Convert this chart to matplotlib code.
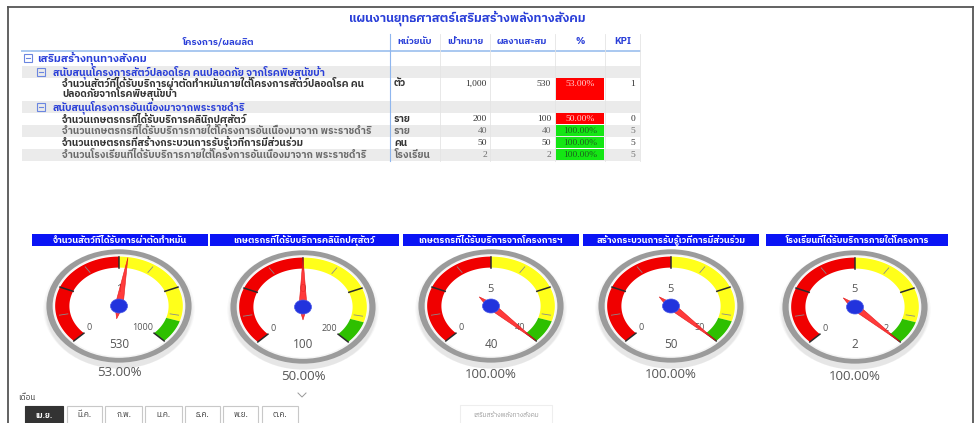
import numpy as np
import matplotlib
matplotlib.use('Agg')
import matplotlib.pyplot as plt
from matplotlib import font_manager
from matplotlib.ft2font import FT2Font
from matplotlib.patches import Polygon, Rectangle, Ellipse

# ---------------- data ----------------
title = 'แผนงานยุทธศาสตร์เสริมสร้างพลังทางสังคม'
headers = ['โครงการ/ผลผลิต', 'หน่วยนับ', 'เป้าหมาย', 'ผลงานสะสม', '%', 'KPI']
group0 = 'เสริมสร้างทุนทางสังคม'
groups = ['สนับสนุนโครงการสัตว์ปลอดโรค คนปลอดภัย จากโรคพิษสุนัขบ้า',
          'สนับสนุนโครงการอันเนื่องมาจากพระราชดำริ']
items = ['จำนวนสัตว์ที่ได้รับบริการผ่าตัดทำหมันภายใต้โครงการสัตว์ปลอดโรค คน\nปลอดภัยจากโรคพิษสุนัขบ้า',
         'จำนวนเกษตรกรที่ได้รับบริการคลินิกปศุสัตว์',
         'จำนวนเกษตรกรที่ได้รับบริการภายใต้โครงการอันเนื่องมาจาก พระราชดำริ',
         'จำนวนเกษตรกรที่สร้างกระบวนการรับรู้เวทีการมีส่วนร่วม',
         'จำนวนโรงเรียนที่ได้รับบริการภายใต้โครงการอันเนื่องมาจาก พระราชดำริ']
item_group = [0, 1, 1, 1, 1]
units = ['ตัว', 'ราย', 'ราย', 'คน', 'โรงเรียน']
targets = [1000, 200, 40, 50, 2]
actuals = [530, 100, 40, 50, 2]
percents = [53.00, 50.00, 100.00, 100.00, 100.00]
kpis = [1, 0, 5, 5, 5]
gauge_titles = ['จำนวนสัตว์ที่ได้รับการผ่าตัดทำหมัน',
                'เกษตรกรที่ได้รับบริการคลินิกปศุสัตว์',
                'เกษตรกรที่ได้รับบริการจากโครงการฯ',
                'สร้างกระบวนการรับรู้เวทีการมีส่วนร่วม',
                'โรงเรียนที่ได้รับบริการภายใต้โครงการ']
band_limits = [0.5, 0.9, 1.0]          # red / yellow / green upper bounds (fraction)
band_colors = ['#f00000', '#ffff1a', '#2ec000']
slicer_label = 'เดือน'
months = ['เม.ย.', 'มี.ค.', 'ก.พ.', 'ม.ค.', 'ธ.ค.', 'พ.ย.', 'ต.ค.']
selected_month = 'เม.ย.'
page_tab = 'เสริมสร้างพลังทางสังคม'

# ---------------- fonts ----------------
def find_thai():
    cands = []
    seen = set()
    for f in font_manager.fontManager.ttflist:
        if f.name in seen:
            continue
        try:
            cm = FT2Font(f.fname).get_charmap()
        except Exception:
            continue
        if 0x0E08 in cm and 0x0E2A in cm and 0x0E33 in cm:
            cands.append(f.name)
            seen.add(f.name)
    cands.sort(key=lambda n: (0 if 'Thai' in n else 1, n))
    return cands[0] if cands else 'DejaVu Sans'

THAI = find_thai()
plt.rcParams['font.family'] = [THAI, 'DejaVu Sans']
NUMF = ['Open Sans', THAI, 'DejaVu Sans']
SERIF = ['Liberation Serif', THAI]

W, H = 976, 423
fig = plt.figure(figsize=(W / 100, H / 100), dpi=100)
ax = fig.add_axes([0, 0, 1, 1])
ax.set_xlim(0, W)
ax.set_ylim(H, 0)
ax.axis('off')

# ---------------- frame ----------------
ax.plot([8, 8], [7, H], color='#555555', lw=1.3)
ax.plot([8, 973], [7, 7], color='#555555', lw=1.3)
ax.plot([973, 973], [7, H], color='#555555', lw=1.3)

# ---------------- table ----------------
BLUE = '#2a3fd8'
ax.text(467, 18, title, ha='center', va='center', fontsize=9.0, fontweight='bold', color=BLUE)

col_edges = [22, 390, 440, 490, 555, 605, 640]
hdr_x = [218, 415, 465, 522, 580, 623]
for t, x in zip(headers, hdr_x):
    ax.text(x, 42, t, ha='center', va='center', fontsize=6.8, fontweight='bold', color=BLUE)

# rows: (kind, index, top, bottom)
rows = [('g0', 0, 51, 66), ('g1', 0, 66, 78), ('it', 0, 78, 101), ('g1', 1, 101, 113),
        ('it', 1, 113, 125), ('it', 2, 125, 137), ('it', 3, 137, 149), ('it', 4, 149, 161)]

def minus_box(x, yc, color='#6b86e0'):
    ax.add_patch(Rectangle((x, yc - 4), 8, 8, fill=False, ec=color, lw=0.8))
    ax.plot([x + 2, x + 6], [yc, yc], color=color, lw=0.8)

ITF = 7.3
pos_in_group = {}
for kind, idx, top, bot in rows:
    yc = (top + bot) / 2
    if kind == 'g0':
        minus_box(24, yc)
        ax.text(37, yc, group0, ha='left', va='center', fontsize=8.0, fontweight='bold', color=BLUE)
    elif kind == 'g1':
        ax.add_patch(Rectangle((22, top), 618, bot - top, color='#ebebeb', lw=0))
        minus_box(37, yc)
        ax.text(53, yc, groups[idx], ha='left', va='center', fontsize=7.4, fontweight='bold', color=BLUE)
    else:
        g = item_group[idx]
        k = pos_in_group.get(g, 0)
        pos_in_group[g] = k + 1
        banded = (k % 2 == 1)
        tc = '#6a6a6a' if banded else '#333333'
        if banded:
            ax.add_patch(Rectangle((22, top), 618, bot - top, color='#ebebeb', lw=0))
        lines = items[idx].split('\n')
        if len(lines) == 1:
            ax.text(62, yc, lines[0], ha='left', va='center', fontsize=ITF, fontweight='bold', color=tc)
            ty = yc
        else:
            ax.text(62, top + 5.5, lines[0], ha='left', va='center', fontsize=ITF, fontweight='bold', color=tc)
            ax.text(62, top + 15.5, lines[1], ha='left', va='center', fontsize=ITF, fontweight='bold', color=tc)
            ty = top + 5.5
        ax.text(394, ty, units[idx], ha='left', va='center', fontsize=ITF, fontweight='bold', color=tc)
        ax.text(487, ty, f'{targets[idx]:,}', ha='right', va='center', fontsize=6.8, color=tc, family=SERIF)
        ax.text(551, ty, f'{actuals[idx]:,}', ha='right', va='center', fontsize=6.8, color=tc, family=SERIF)
        ok = percents[idx] >= 100
        cell_c = '#14e614' if ok else '#ff0000'
        ax.add_patch(Rectangle((556, top + 0.5), 48, bot - top - 1, color=cell_c, lw=0))
        ax.text(580, ty, f'{percents[idx]:.2f}%', ha='center', va='center', fontsize=6.8,
                color=('#1d5e1d' if ok else '#ffd0d0'), family=SERIF)
        ax.text(635, ty, str(kpis[idx]), ha='right', va='center', fontsize=6.8, color=tc, family=SERIF)

ax.plot([22, 640], [51, 51], color='#a9c8f0', lw=1.4)
ax.plot([390, 390], [34, 161], color='#8fb6ee', lw=0.8)
for x in col_edges[2:]:
    ax.plot([x, x], [34, 161], color='#e4e4e4', lw=0.6)

# ---------------- gauges ----------------
SX, SY = 62.0, 48.0
gcx = [119, 303, 491, 671, 855]
gcy = [306, 307, 306, 306, 307]
pct_y = [372, 377, 375, 375, 376]
bars = [(32, 208), (210, 399), (403, 579), (583, 759), (766, 948)]

def pt(cx, cy, r, deg):
    th = np.deg2rad(deg)
    return cx + r * SX * np.cos(th), cy - r * SY * np.sin(th)

def ring(cx, cy, r0, r1, a0, a1, color, z=2, alpha=1.0, n=120):
    a = np.linspace(a0, a1, n)
    ox, oy = pt(cx, cy, r1, a)
    ix, iy = pt(cx, cy, r0, a[::-1])
    xy = np.column_stack([np.concatenate([ox, ix]), np.concatenate([oy, iy])])
    ax.add_patch(Polygon(xy, closed=True, fc=color, ec='none', zorder=z, alpha=alpha))

def val2ang(v, vmax):
    return 225 - 270 * (v / vmax)

for i in range(5):
    cx, cy = gcx[i], gcy[i]
    x0, x1 = bars[i]
    ax.add_patch(Rectangle((x0, 234), x1 - x0, 12, color='#0a14f5', lw=0, zorder=2))
    ax.text((x0 + x1) / 2, 240.5, gauge_titles[i], ha='center', va='center', fontsize=6.6,
            fontweight='bold', color='white', zorder=3)
    # shadow
    for k, a in enumerate([0.05, 0.06, 0.08]):
        ax.add_patch(Ellipse((cx, cy + 3 + k), 2 * (1.22 - 0.02 * k) * SX, 2 * (1.24 - 0.02 * k) * SY,
                             fc='#7a7a7a', ec='none', alpha=a, zorder=1))
    ax.add_patch(Ellipse((cx, cy), 2 * 1.17 * SX, 2 * 1.18 * SY, fc='#9b9b9b', ec='none', zorder=1.5))
    ax.add_patch(Ellipse((cx, cy), 2 * 1.07 * SX, 2 * 1.08 * SY, fc='#f4f4f4', ec='none', zorder=1.6))
    ax.add_patch(Ellipse((cx, cy), 2 * 1.04 * SX, 2 * 1.05 * SY, fc='white', ec='none', zorder=1.7))
    # colour bands
    prev = 0.0
    for lim, c in zip(band_limits, band_colors):
        ring(cx, cy, 0.80, 1.03, val2ang(lim, 1), val2ang(prev, 1), c, z=2)
        prev = lim
    # ticks
    for j, frac in enumerate(np.linspace(0, 1, 9)):
        a = val2ang(frac, 1)
        if j % 2 == 0:
            xa, ya = pt(cx, cy, 0.80, a)
            xb, yb = pt(cx, cy, 1.03, a)
            ax.plot([xa, xb], [ya, yb], color='#2b2b2b', lw=1.1, zorder=3)
        else:
            xa, ya = pt(cx, cy, 0.84, a)
            xb, yb = pt(cx, cy, 0.98, a)
            ax.plot([xa, xb], [ya, yb], color='#8a8a8a', lw=0.6, zorder=3)
    # labels
    ax.text(cx - 0.52 * SX, cy + 0.45 * SY, '0', ha='left', va='center', fontsize=6.5,
            color='#555555', family=NUMF, zorder=3)
    ax.text(cx + 0.55 * SX, cy + 0.45 * SY, f'{targets[i]}', ha='right', va='center', fontsize=6.5,
            color='#555555', family=NUMF, zorder=3)
    ax.text(cx, cy - 17, str(kpis[i]), ha='center', va='center', fontsize=8,
            color='#555555', family=NUMF, zorder=3)
    ax.text(cx, cy + 38, f'{actuals[i]}', ha='center', va='center', fontsize=8.5,
            color='#555555', family=NUMF, zorder=3)
    ax.text(cx, pct_y[i], f'{percents[i]:.2f}%', ha='center', va='center', fontsize=9.5,
            color='#555555', family=NUMF, zorder=3)
    # needle
    ang = val2ang(min(actuals[i], targets[i]), targets[i])
    th = np.deg2rad(ang)
    pts_local = [(1.02, 0.0), (0.0, 0.065), (-0.27, 0.0), (0.0, -0.065)]
    xy = []
    for u, v in pts_local:
        xr = u * np.cos(th) - v * np.sin(th)
        yr = u * np.sin(th) + v * np.cos(th)
        xy.append((cx + xr * SX, cy - yr * SY))
    ax.add_patch(Polygon(xy, closed=True, fc='#ff2a2a', ec='#e01010', lw=0.4, alpha=0.92, zorder=4))
    ax.add_patch(Ellipse((cx, cy), 17, 14, fc='#2233dd', ec='#4a5ae8', lw=0.5, zorder=5))

# ---------------- slicer ----------------
ax.text(18, 398, slicer_label, ha='left', va='center', fontsize=5.8, color='#333333')
ax.plot([298, 302, 306], [393, 397, 393], color='#999999', lw=0.7)
bx = [(25, 63), (67, 102), (105, 142), (145, 182), (185, 220), (223, 258), (262, 298)]
for m, (a, b) in zip(months, bx):
    sel = (m == selected_month)
    ax.add_patch(Rectangle((a, 406), b - a, 20, fc=('#333333' if sel else 'white'),
                           ec=('#333333' if sel else '#c8c8c8'), lw=0.8))
    ax.text((a + b) / 2, 415, m, ha='center', va='center', fontsize=5.8,
            color=('white' if sel else '#333333'), fontweight=('bold' if sel else 'normal'))
ax.add_patch(Rectangle((460, 405), 92, 20, fc='white', ec='#eeeeee', lw=0.8))
ax.text(506, 415, page_tab, ha='center', va='center', fontsize=4.8, color='#9a9a9a')

fig.savefig('out.png', dpi=100)
